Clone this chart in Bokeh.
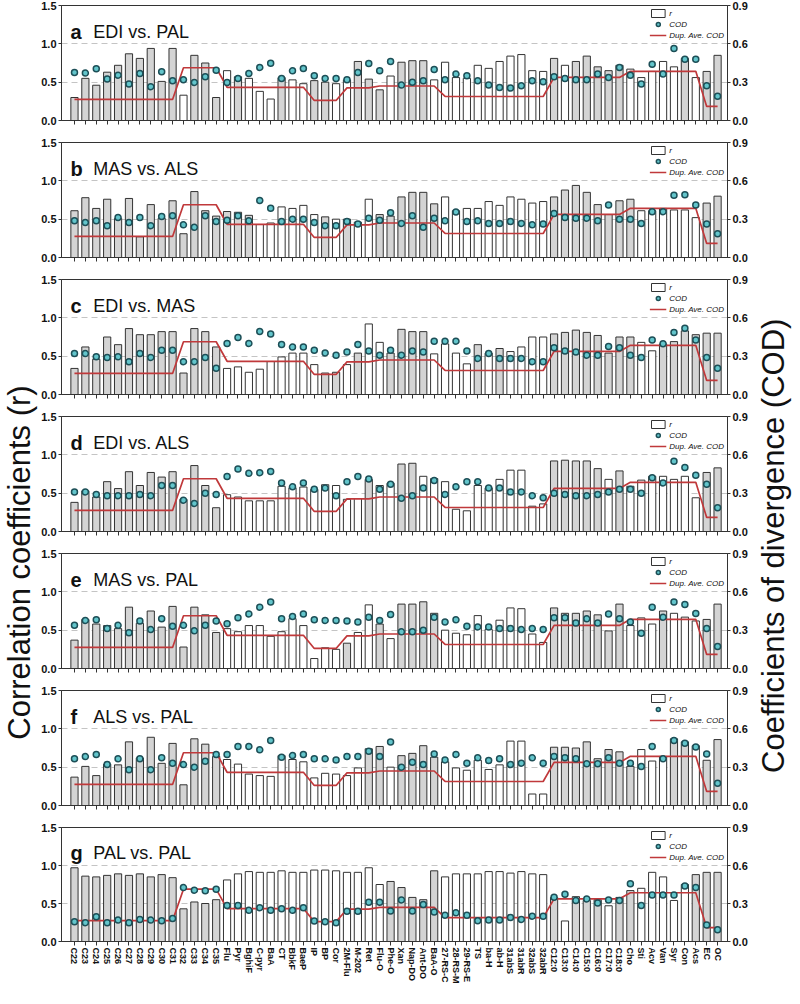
import math
from bokeh.plotting import figure
from bokeh.models import (Range1d, LinearAxis, FixedTicker, PrintfTickFormatter,
                          ColumnDataSource, Label, Legend, LegendItem)
from bokeh.layouts import row, column
from bokeh.embed import file_html
from bokeh.resources import INLINE

# ---------------- data ----------------
categories = ["C22", "C23", "C24", "C25", "C26", "C27", "C28", "C29", "C30", "C31",
              "C32", "C33", "C34", "C35", "Flu", "Pyr", "BghiF", "C-pyr", "BaA", "CT",
              "BbkF", "BaeP", "IP", "BP", "Cor", "2M-Flu", "M-202", "Ret", "Flu-O", "Phe-O",
              "Xan", "Nap-DO", "Ant-DO", "BaA-O", "27-RS-C", "28-RS-M", "29-RS-E", "TS", "ba-H", "ab-H",
              "31abS", "31abR", "32abS", "32abR", "C12:0", "C13:0", "C14:0", "C15:0", "C16:0", "C17:0",
              "C18:0", "Cho", "Sti", "Acv", "Van", "Syr", "Con", "Acs", "EC", "OC"]

panel_letters = ["a", "b", "c", "d", "e", "f", "g"]
panel_titles = ["EDI vs. PAL", "MAS vs. ALS", "EDI vs. MAS", "EDI vs. ALS",
                "MAS vs. PAL", "ALS vs. PAL", "PAL vs. PAL"]

# duplicate average COD (same for every comparison)
dup_ave_cod = [0.165, 0.165, 0.165, 0.165, 0.165, 0.165, 0.165, 0.165, 0.165, 0.165,
               0.413, 0.413, 0.413, 0.413, 0.26, 0.26, 0.26, 0.26, 0.26, 0.26,
               0.26, 0.26, 0.157, 0.157, 0.157, 0.255, 0.255, 0.255, 0.27, 0.27,
               0.27, 0.27, 0.27, 0.27, 0.188, 0.188, 0.188, 0.188, 0.188, 0.188,
               0.188, 0.188, 0.188, 0.188, 0.337, 0.337, 0.337, 0.337, 0.337, 0.337,
               0.337, 0.385, 0.385, 0.385, 0.385, 0.385, 0.385, 0.385, 0.11, 0.11]

r_a = [0.30, 0.55, 0.46, 0.63, 0.72, 0.87, 0.81, 0.94, 0.51, 0.94,
       0.33, 0.85, 0.75, 0.30, 0.65, 0.57, 0.55, 0.38, 0.28, 0.56,
       0.53, 0.48, 0.52, 0.50, 0.48, 0.53, 0.77, 0.54, 0.40, 0.58,
       0.76, 0.78, 0.78, 0.53, 0.76, 0.56, 0.55, 0.72, 0.68, 0.77,
       0.84, 0.86, 0.65, 0.64, 0.81, 0.72, 0.77, 0.84, 0.70, 0.65,
       0.72, 0.67, 0.56, 0.64, 0.77, 0.70, 0.81, 0.56, 0.64, 0.85]
cod_a = [0.376, 0.371, 0.405, 0.324, 0.355, 0.285, 0.368, 0.265, 0.381, 0.311,
         0.319, 0.298, 0.342, 0.394, 0.298, 0.329, 0.368, 0.415, 0.449, 0.329,
         0.389, 0.407, 0.350, 0.329, 0.329, 0.319, 0.376, 0.446, 0.389, 0.461,
         0.277, 0.300, 0.311, 0.400, 0.319, 0.363, 0.350, 0.311, 0.277, 0.259,
         0.254, 0.272, 0.311, 0.303, 0.342, 0.329, 0.319, 0.319, 0.363, 0.337,
         0.415, 0.355, 0.285, 0.441, 0.363, 0.563, 0.480, 0.480, 0.272, 0.189]
shaded_a = [1, 1, 1, 1, 1, 1, 1, 1, 1, 1, 0, 1, 1, 1, 0, 1, 0, 0, 0, 1,
            0, 0, 1, 1, 0, 0, 1, 1, 1, 0, 1, 1, 1, 0, 0, 0, 0, 0, 0, 0,
            0, 0, 0, 0, 1, 0, 1, 1, 1, 1, 1, 0, 0, 0, 0, 0, 1, 0, 1, 1]

r_b = [0.61, 0.78, 0.64, 0.76, 0.51, 0.77, 0.27, 0.69, 0.51, 0.74,
       0.31, 0.86, 0.61, 0.54, 0.60, 0.59, 0.55, 0.43, 0.45, 0.66,
       0.64, 0.68, 0.56, 0.53, 0.50, 0.50, 0.46, 0.76, 0.56, 0.54,
       0.79, 0.85, 0.85, 0.70, 0.79, 0.61, 0.64, 0.64, 0.73, 0.68,
       0.79, 0.76, 0.71, 0.73, 0.79, 0.88, 0.94, 0.85, 0.69, 0.56,
       0.74, 0.76, 0.61, 0.61, 0.64, 0.62, 0.62, 0.52, 0.71, 0.80]
cod_b = [0.287, 0.274, 0.287, 0.249, 0.313, 0.274, 0.313, 0.249, 0.321, 0.326,
         0.256, 0.236, 0.326, 0.282, 0.292, 0.326, 0.287, 0.446, 0.385, 0.282,
         0.300, 0.300, 0.274, 0.249, 0.249, 0.282, 0.262, 0.308, 0.292, 0.351,
         0.267, 0.326, 0.236, 0.308, 0.287, 0.356, 0.282, 0.287, 0.267, 0.267,
         0.282, 0.267, 0.256, 0.262, 0.344, 0.313, 0.308, 0.308, 0.287, 0.410,
         0.300, 0.300, 0.267, 0.359, 0.359, 0.487, 0.492, 0.410, 0.262, 0.185]
shaded_b = [1, 1, 1, 1, 1, 1, 1, 1, 1, 1, 1, 1, 1, 1, 1, 1, 1, 0, 0, 0,
            0, 0, 0, 1, 0, 1, 0, 0, 1, 1, 1, 1, 1, 1, 0, 0, 0, 0, 0, 0,
            0, 0, 0, 0, 1, 1, 1, 1, 1, 1, 1, 1, 0, 0, 0, 0, 0, 0, 1, 1]

r_c = [0.34, 0.62, 0.46, 0.75, 0.65, 0.86, 0.78, 0.78, 0.82, 0.82,
       0.28, 0.86, 0.82, 0.62, 0.34, 0.36, 0.29, 0.33, 0.43, 0.49,
       0.54, 0.54, 0.39, 0.28, 0.29, 0.39, 0.54, 0.92, 0.68, 0.54,
       0.85, 0.82, 0.82, 0.53, 0.66, 0.54, 0.40, 0.65, 0.54, 0.60,
       0.56, 0.62, 0.75, 0.75, 0.79, 0.81, 0.84, 0.81, 0.77, 0.54,
       0.75, 0.75, 0.68, 0.57, 0.66, 0.69, 0.83, 0.78, 0.80, 0.80]
cod_c = [0.320, 0.320, 0.295, 0.290, 0.295, 0.257, 0.320, 0.290, 0.346, 0.346,
         0.257, 0.257, 0.290, 0.206, 0.400, 0.447, 0.400, 0.493, 0.473, 0.392,
         0.371, 0.371, 0.346, 0.325, 0.308, 0.333, 0.392, 0.341, 0.308, 0.346,
         0.308, 0.341, 0.333, 0.417, 0.417, 0.417, 0.341, 0.282, 0.320, 0.282,
         0.282, 0.282, 0.257, 0.257, 0.366, 0.341, 0.333, 0.308, 0.308, 0.376,
         0.366, 0.308, 0.290, 0.427, 0.397, 0.486, 0.519, 0.427, 0.290, 0.206]
shaded_c = [1, 1, 1, 1, 1, 1, 1, 1, 1, 1, 1, 1, 1, 1, 0, 0, 0, 0, 0, 0,
            0, 0, 0, 1, 1, 0, 1, 0, 0, 1, 1, 1, 1, 0, 0, 0, 0, 1, 0, 1,
            0, 0, 0, 0, 1, 1, 1, 1, 1, 1, 1, 1, 0, 0, 1, 1, 1, 1, 1, 1]

r_d = [0.38, 0.53, 0.45, 0.65, 0.56, 0.78, 0.60, 0.77, 0.71, 0.78,
       0.42, 0.86, 0.60, 0.31, 0.48, 0.45, 0.40, 0.40, 0.40, 0.59,
       0.57, 0.58, 0.55, 0.61, 0.60, 0.42, 0.43, 0.68, 0.60, 0.63,
       0.88, 0.89, 0.72, 0.69, 0.65, 0.29, 0.27, 0.60, 0.57, 0.68,
       0.80, 0.80, 0.33, 0.36, 0.92, 0.93, 0.92, 0.92, 0.82, 0.68,
       0.79, 0.59, 0.67, 0.72, 0.72, 0.68, 0.72, 0.44, 0.77, 0.83]
cod_d = [0.31, 0.31, 0.29, 0.28, 0.28, 0.28, 0.29, 0.28, 0.36, 0.36,
         0.245, 0.22, 0.30, 0.29, 0.43, 0.49, 0.455, 0.46, 0.47, 0.38,
         0.35, 0.38, 0.33, 0.34, 0.28, 0.39, 0.43, 0.41, 0.33, 0.37,
         0.26, 0.28, 0.34, 0.40, 0.29, 0.35, 0.39, 0.39, 0.34, 0.34,
         0.31, 0.31, 0.28, 0.265, 0.30, 0.29, 0.28, 0.28, 0.29, 0.31,
         0.33, 0.33, 0.30, 0.42, 0.38, 0.55, 0.50, 0.44, 0.37, 0.186]
shaded_d = [1, 1, 1, 1, 1, 1, 1, 1, 1, 1, 1, 1, 1, 1, 0, 0, 0, 0, 0, 0,
            0, 0, 0, 0, 0, 0, 0, 1, 0, 0, 1, 1, 0, 0, 0, 0, 0, 0, 0, 0,
            0, 0, 0, 0, 1, 1, 1, 1, 1, 0, 1, 0, 0, 0, 0, 0, 0, 0, 1, 1]

r_e = [0.37, 0.64, 0.58, 0.56, 0.52, 0.80, 0.59, 0.75, 0.54, 0.81,
       0.28, 0.80, 0.70, 0.47, 0.52, 0.48, 0.56, 0.56, 0.42, 0.48,
       0.65, 0.56, 0.13, 0.27, 0.25, 0.33, 0.47, 0.83, 0.58, 0.39,
       0.84, 0.84, 0.87, 0.72, 0.50, 0.46, 0.44, 0.69, 0.51, 0.63,
       0.79, 0.78, 0.45, 0.34, 0.79, 0.72, 0.72, 0.75, 0.70, 0.49,
       0.84, 0.56, 0.66, 0.58, 0.75, 0.72, 0.67, 0.62, 0.64, 0.84]
cod_e = [0.338, 0.376, 0.381, 0.313, 0.338, 0.280, 0.371, 0.305, 0.389, 0.330,
         0.338, 0.295, 0.338, 0.371, 0.351, 0.397, 0.427, 0.480, 0.520, 0.389,
         0.407, 0.427, 0.381, 0.376, 0.376, 0.371, 0.364, 0.402, 0.376, 0.422,
         0.287, 0.287, 0.300, 0.402, 0.364, 0.381, 0.330, 0.325, 0.325, 0.313,
         0.313, 0.305, 0.313, 0.305, 0.397, 0.397, 0.356, 0.389, 0.356, 0.427,
         0.389, 0.364, 0.275, 0.480, 0.402, 0.520, 0.500, 0.430, 0.313, 0.173]
shaded_e = [1, 1, 1, 1, 1, 1, 1, 1, 1, 1, 1, 1, 1, 1, 0, 0, 0, 0, 0, 0,
            0, 0, 0, 0, 0, 1, 0, 0, 1, 0, 1, 1, 1, 1, 0, 0, 0, 0, 0, 0,
            0, 0, 0, 0, 1, 1, 1, 1, 1, 1, 1, 0, 0, 0, 1, 0, 0, 0, 1, 1]

r_f = [0.37, 0.51, 0.39, 0.54, 0.53, 0.83, 0.62, 0.89, 0.55, 0.81,
       0.27, 0.87, 0.80, 0.64, 0.60, 0.54, 0.41, 0.39, 0.38, 0.65,
       0.60, 0.57, 0.36, 0.42, 0.41, 0.39, 0.49, 0.74, 0.77, 0.50,
       0.65, 0.68, 0.78, 0.63, 0.57, 0.49, 0.46, 0.59, 0.47, 0.53,
       0.84, 0.84, 0.15, 0.15, 0.76, 0.76, 0.75, 0.83, 0.61, 0.73,
       0.70, 0.51, 0.73, 0.58, 0.64, 0.87, 0.83, 0.78, 0.59, 0.86]
cod_f = [0.365, 0.383, 0.400, 0.320, 0.365, 0.280, 0.365, 0.280, 0.373, 0.331,
         0.320, 0.300, 0.347, 0.400, 0.400, 0.462, 0.462, 0.436, 0.509, 0.378,
         0.391, 0.400, 0.365, 0.365, 0.357, 0.383, 0.383, 0.425, 0.383, 0.496,
         0.300, 0.339, 0.320, 0.404, 0.357, 0.400, 0.331, 0.373, 0.352, 0.365,
         0.320, 0.331, 0.373, 0.331, 0.383, 0.373, 0.365, 0.326, 0.326, 0.373,
         0.331, 0.331, 0.305, 0.462, 0.365, 0.509, 0.488, 0.457, 0.404, 0.175]
shaded_f = [1, 1, 1, 1, 1, 1, 1, 1, 1, 1, 1, 1, 1, 1, 0, 0, 0, 0, 0, 0,
            0, 0, 0, 0, 0, 0, 0, 1, 1, 0, 1, 1, 1, 1, 0, 0, 0, 0, 0, 0,
            0, 0, 0, 0, 1, 1, 1, 1, 1, 1, 1, 1, 0, 0, 0, 1, 1, 0, 1, 1]

r_g = [0.97, 0.86, 0.85, 0.87, 0.89, 0.87, 0.89, 0.85, 0.88, 0.84,
       0.43, 0.52, 0.50, 0.55, 0.81, 0.89, 0.92, 0.91, 0.91, 0.93,
       0.91, 0.91, 0.94, 0.94, 0.93, 0.91, 0.91, 0.97, 0.75, 0.79,
       0.71, 0.58, 0.55, 0.93, 0.85, 0.89, 0.89, 0.89, 0.92, 0.92,
       0.90, 0.92, 0.89, 0.88, 0.58, 0.27, 0.59, 0.54, 0.55, 0.47,
       0.58, 0.67, 0.70, 0.91, 0.85, 0.54, 0.75, 0.88, 0.91, 0.91]
cod_g = [0.156, 0.149, 0.195, 0.149, 0.169, 0.149, 0.174, 0.169, 0.164, 0.182,
         0.426, 0.405, 0.400, 0.413, 0.285, 0.285, 0.246, 0.267, 0.246, 0.259,
         0.246, 0.267, 0.162, 0.156, 0.149, 0.238, 0.238, 0.310, 0.310, 0.241,
         0.328, 0.241, 0.292, 0.233, 0.208, 0.226, 0.208, 0.164, 0.169, 0.169,
         0.190, 0.174, 0.200, 0.200, 0.349, 0.374, 0.323, 0.336, 0.303, 0.328,
         0.323, 0.456, 0.285, 0.367, 0.367, 0.367, 0.438, 0.426, 0.131, 0.092]
shaded_g = [1, 1, 1, 1, 1, 1, 1, 1, 1, 1, 1, 1, 1, 1, 0, 0, 0, 0, 0, 0,
            0, 0, 0, 0, 0, 0, 0, 0, 0, 1, 1, 1, 1, 1, 0, 0, 0, 0, 0, 0,
            0, 0, 0, 0, 1, 0, 1, 1, 1, 0, 1, 1, 0, 0, 0, 0, 0, 1, 1, 1]

panel_r = [r_a, r_b, r_c, r_d, r_e, r_f, r_g]
panel_cod = [cod_a, cod_b, cod_c, cod_d, cod_e, cod_f, cod_g]
panel_shaded = [shaded_a, shaded_b, shaded_c, shaded_d, shaded_e, shaded_f, shaded_g]

# ---------------- style ----------------
FONT = "Liberation Sans"
GRAY = "#d4d4d4"
EDGE = "#333333"
RED = "#c0393b"
TEAL = "#63c5cb"
TEAL_EDGE = "#1d4f57"
X_RANGE = (-1.19, 59.91)
LEFT_W = 38
RIGHT_W = 38
PANEL_W = 716
PANEL_H = 137
LAST_H = 164
TOTAL_H = 6 * PANEL_H + LAST_H


def make_panel(k):
    last = (k == 6)
    p = figure(width=PANEL_W, height=LAST_H if last else PANEL_H,
               x_range=Range1d(*X_RANGE), y_range=Range1d(0, 1.5),
               output_backend="svg", toolbar_location=None,
               min_border_left=21, min_border_right=27, min_border_top=5,
               min_border_bottom=44 if last else 17)
    p.extra_y_ranges = {"cod": Range1d(0, 0.9)}
    p.background_fill_color = "white"
    p.border_fill_color = "white"
    p.outline_line_color = EDGE
    p.outline_line_width = 1

    p.xgrid.visible = False
    p.ygrid.ticker = FixedTicker(ticks=[0.5, 1.0])
    p.ygrid.grid_line_color = "#c4c4c4"
    p.ygrid.grid_line_dash = "6 4"
    p.ygrid.grid_line_width = 1

    ya = p.yaxis[0]
    ya.ticker = FixedTicker(ticks=[0, 0.5, 1.0, 1.5])
    ya.formatter = PrintfTickFormatter(format="%.1f")
    ra = LinearAxis(y_range_name="cod", ticker=FixedTicker(ticks=[0, 0.3, 0.6, 0.9]),
                    formatter=PrintfTickFormatter(format="%.1f"))
    p.add_layout(ra, "right")
    for ax in (ya, ra):
        ax.major_label_text_font = FONT
        ax.major_label_text_font_size = "11px"
        ax.major_label_text_font_style = "bold"
        ax.major_label_text_color = "#111111"
        ax.major_tick_in = 0
        ax.major_tick_out = 3
        ax.minor_tick_line_color = None
        ax.axis_line_color = EDGE
        ax.major_tick_line_color = EDGE
        ax.major_label_standoff = 2

    xa = p.xaxis[0]
    xa.ticker = FixedTicker(ticks=list(range(len(categories))))
    xa.minor_tick_line_color = None
    xa.major_tick_in = 0
    xa.major_tick_out = 4
    xa.axis_line_color = EDGE
    xa.major_tick_line_color = EDGE
    if last:
        xa.major_label_overrides = {i: c for i, c in enumerate(categories)}
        xa.major_label_orientation = "vertical"
        xa.major_label_text_font = FONT
        xa.major_label_text_font_size = "9px"
        xa.major_label_text_font_style = "bold"
        xa.major_label_text_color = "#111111"
        xa.major_label_standoff = 2
    else:
        xa.major_label_overrides = {i: "" for i in range(len(categories))}
        xa.major_label_text_font_size = "0px"
        xa.major_label_standoff = 0

    shaded = panel_shaded[k]
    src = ColumnDataSource(dict(
        x=list(range(len(categories))),
        r=panel_r[k],
        cod=panel_cod[k],
        dup=dup_ave_cod,
        fill=[GRAY if s else "white" for s in shaded],
    ))
    bars = p.vbar(x="x", top="r", bottom=0, width=0.66, fill_color="fill",
                  line_color=EDGE, line_width=1, source=src)
    ln = p.line(x="x", y="dup", y_range_name="cod", line_color=RED,
                line_width=1.7, source=src)
    pts = p.scatter(x="x", y="cod", y_range_name="cod", size=6, fill_color=TEAL,
                    line_color=TEAL_EDGE, line_width=1.5, source=src)

    white_idx = shaded.index(0)
    legend = Legend(items=[LegendItem(label="r", renderers=[bars], index=white_idx),
                           LegendItem(label="COD", renderers=[pts]),
                           LegendItem(label="Dup. Ave. COD", renderers=[ln])],
                    location="top_right", margin=3, padding=0, spacing=1,
                    glyph_height=10, glyph_width=17, label_height=10,
                    label_standoff=3, label_text_font=FONT,
                    label_text_font_size="8px", label_text_font_style="italic",
                    label_text_color="#111111",
                    background_fill_alpha=0, border_line_alpha=0)
    p.add_layout(legend)

    p.add_layout(Label(x=-0.37, y=1.16, text=panel_letters[k], text_font=FONT,
                       text_font_size="20px", text_font_style="bold",
                       text_baseline="alphabetic", text_color="#111111"))
    p.add_layout(Label(x=1.73, y=1.16, text=panel_titles[k], text_font=FONT,
                       text_font_size="18px", text_baseline="alphabetic",
                       text_color="#111111"))
    return p


def make_title(text, width, ypos):
    t = figure(width=width, height=TOTAL_H, x_range=Range1d(0, 1), y_range=Range1d(0, 1),
               x_axis_type=None, y_axis_type=None, output_backend="svg",
               toolbar_location=None, min_border=0)
    t.outline_line_color = None
    t.grid.visible = False
    t.add_layout(Label(x=0.5, y=ypos, text=text, angle=math.pi / 2,
                       text_align="center", text_baseline="middle",
                       text_font=FONT, text_font_size="31px", text_color="#111111"))
    return t


panels = [make_panel(k) for k in range(7)]
left = make_title("Correlation coefficients (r)", LEFT_W, 0.43)
right = make_title("Coefficients of divergence (COD)", RIGHT_W, 0.447)
layout = row(left, column(*panels), right)

open("out.html", "w").write(file_html(layout, INLINE))
